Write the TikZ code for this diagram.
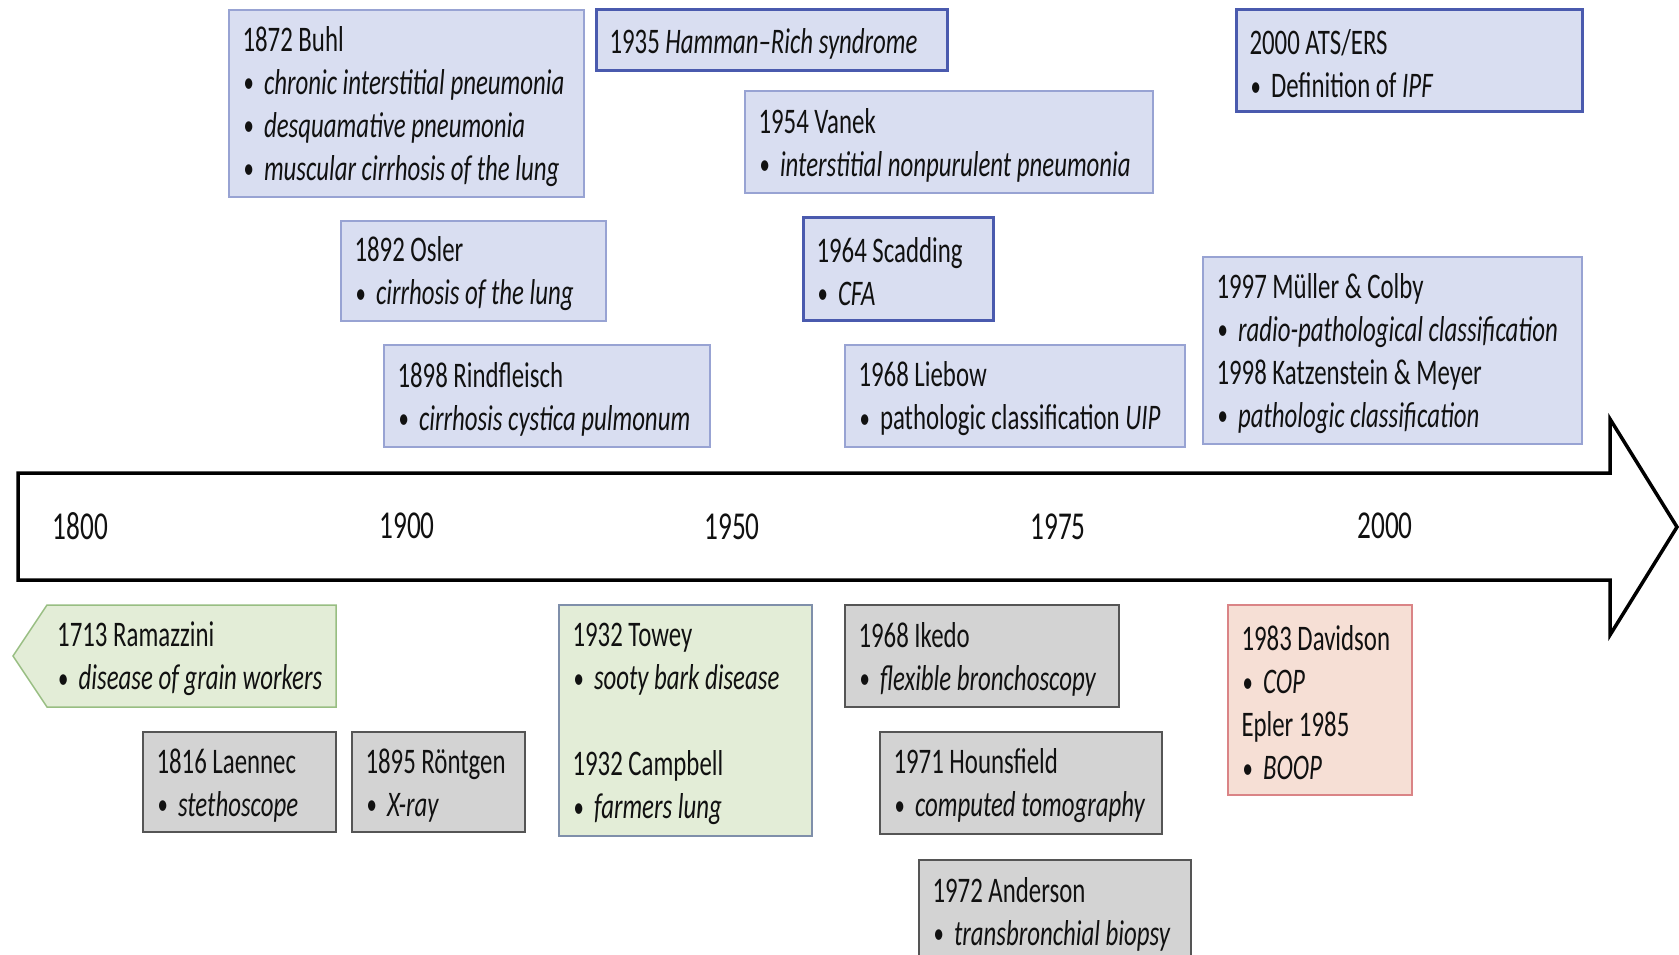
\documentclass[tikz,border=0pt]{standalone}
\usepackage{fontspec}
\setmainfont{Carlito}[FakeStretch=0.69]
\definecolor{bfill}{HTML}{D9DEF1}
\definecolor{bline}{HTML}{98A3D3}
\definecolor{bthick}{HTML}{4A5AAE}
\definecolor{gfill}{HTML}{D3D3D3}
\definecolor{gline}{HTML}{555555}
\definecolor{grfill}{HTML}{E3EDD7}
\definecolor{grline}{HTML}{98BE82}
\definecolor{grbline}{HTML}{7F8FAA}
\definecolor{ofill}{HTML}{F6DFD5}
\definecolor{oline}{HTML}{DA8486}
\definecolor{txt}{HTML}{111111}
\newcommand\bl[1]{\mbox{\makebox[21.5pt][l]{\hspace{1pt}\raisebox{1.5pt}{\fontsize{30}{30}\selectfont •}}#1}}
\newcommand\boxfont{\fontsize{36}{43}\selectfont\spaceskip=5.6pt\xspaceskip=5.6pt\hyphenpenalty=10000\exhyphenpenalty=10000}
\tikzset{
  tbox/.style={draw, inner sep=0pt, align=flush left, text=txt, font=\boxfont,
    execute at begin node={\rule{0pt}{31pt}}},
  bluebox/.style={tbox, fill=bfill, draw=bline, line width=1.5pt},
  bluethick/.style={tbox, fill=bfill, draw=bthick, line width=3pt},
  graybox/.style={tbox, fill=gfill, draw=gline, line width=2pt},
  greenbox/.style={tbox, fill=grfill, draw=grbline, line width=1.5pt},
  orangebox/.style={tbox, fill=ofill, draw=oline, line width=1.5pt},
  year/.style={text=txt, inner sep=0pt, font=\fontsize{39.5}{47}\selectfont},
  axis/.style={draw=black, fill=white, line width=3.5pt, line join=miter},
}
\begin{document}
\begin{tikzpicture}[x=1pt,y=-1pt]
\useasboundingbox (0,0) rectangle (1679,955);
\fill[white] (0,0) rectangle (1679,955);

% timeline arrow
\draw[axis] (18,473) -- (1610,473) -- (1610,419) -- (1677,527) -- (1610,635) -- (1610,580) -- (18,580) -- cycle;
\node[year] (y1800) at (80.5,526) {1800};
\node[year] (y1900) at (407,526) {1900};
\node[year] (y1950) at (732,527) {1950};
\node[year] (y1975) at (1058,527) {1975};
\node[year] (y2000) at (1385,526) {2000};

% upper boxes
\node[bluebox, minimum width=355pt, minimum height=187pt, text width=328pt] (buhl) at (406.5,103.5)
  {1872 Buhl\\ \bl{\textit{chronic interstitial pneumonia}}\\ \bl{\textit{desquamative pneumonia}}\\ \bl{\textit{muscular cirrhosis of the lung}}};
\node[bluethick, minimum width=351pt, minimum height=61pt, text width=324pt] (hamman) at (771.5,40.5)
  {1935 \textit{Hamman–Rich syndrome}};
\node[bluebox, minimum width=408pt, minimum height=102pt, text width=381pt] (vanek) at (949,142)
  {1954 Vanek\\ \bl{\textit{interstitial nonpurulent pneumonia}}};
\node[bluebox, minimum width=265pt, minimum height=100pt, text width=238pt] (osler) at (473.5,271)
  {1892 Osler\\ \bl{\textit{cirrhosis of the lung}}};
\node[bluethick, minimum width=190pt, minimum height=103pt, text width=163pt] (scadding) at (898,268.5)
  {1964 Scadding\\ \bl{\textit{CFA}}};
\node[bluebox, minimum width=326pt, minimum height=102pt, text width=299pt] (rind) at (547,396)
  {1898 Rindfleisch\\ \bl{\textit{cirrhosis cystica pulmonum}}};
\node[bluebox, minimum width=340pt, minimum height=102pt, text width=313pt] (liebow) at (1015,396)
  {1968 Liebow\\ \bl{pathologic classification \textit{UIP}}};
\node[bluethick, minimum width=346pt, minimum height=102pt, text width=319pt] (ats) at (1409,61)
  {2000 ATS/ERS\\ \bl{Definition of \textit{IPF}}};
\node[bluebox, minimum width=379pt, minimum height=187pt, text width=352pt] (muller) at (1392.5,350.5)
  {1997 Müller \& Colby\\ \bl{\textit{radio-pathological classification}}\\ 1998 Katzenstein \& Meyer\\ \bl{\textit{pathologic classification}}};

% lower boxes
\draw[fill=grfill, draw=grline, line width=1.5pt] (13,656) -- (47,605) -- (336,605) -- (336,707) -- (47,707) -- cycle;
\node[tbox, draw=none, anchor=west] (ram) at (57,659)
  {1713 Ramazzini\\ \bl{\textit{disease of grain workers}}};
\node[graybox, minimum width=193pt, minimum height=100pt, text width=166pt] (laennec) at (239.5,782)
  {1816 Laennec\\ \bl{\textit{stethoscope}}};
\node[graybox, minimum width=173pt, minimum height=100pt, text width=146pt] (rontgen) at (438.5,782)
  {1895 Röntgen\\ \bl{\textit{X-ray}}};
\node[greenbox, minimum width=253pt, minimum height=231pt, text width=226pt] (towey) at (685.5,720.5)
  {1932 Towey\\ \bl{\textit{sooty bark disease}}\\[43pt] 1932 Campbell\\ \bl{\textit{farmers lung}}};
\node[graybox, minimum width=274pt, minimum height=102pt, text width=247pt] (ikedo) at (982,656)
  {1968 Ikedo\\ \bl{\textit{flexible bronchoscopy}}};
\node[graybox, minimum width=282pt, minimum height=102pt, text width=255pt] (hounsfield) at (1021,783)
  {1971 Hounsfield\\ \bl{\textit{computed tomography}}};
\node[graybox, minimum width=272pt, minimum height=102pt, text width=245pt] (anderson) at (1055,911)
  {1972 Anderson\\ \bl{\textit{transbronchial biopsy}}};
\node[orangebox, minimum width=184pt, minimum height=190pt, text width=157pt] (davidson) at (1320,700)
  {1983 Davidson\\ \bl{\textit{COP}}\\ Epler 1985\\ \bl{\textit{BOOP}}};
\end{tikzpicture}
\end{document}
